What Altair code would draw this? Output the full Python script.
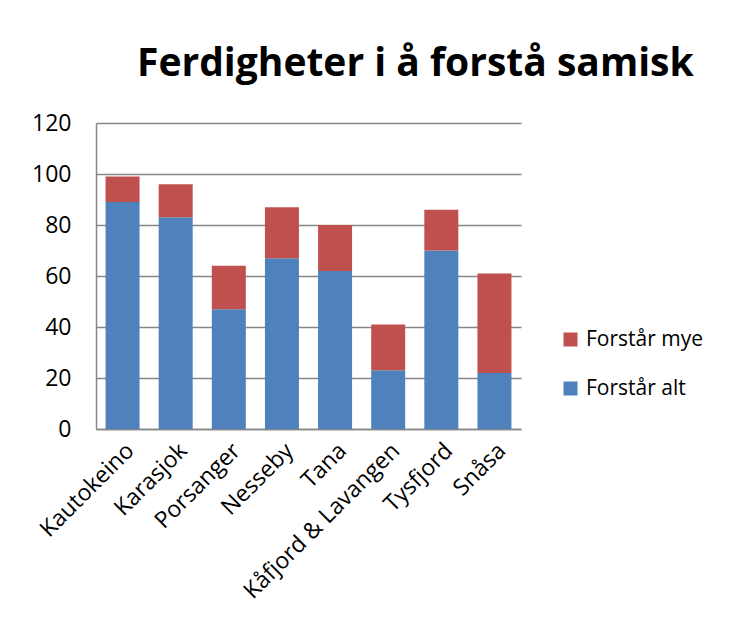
import altair as alt
import pandas as pd

municipalities = ["Kautokeino", "Karasjok", "Porsanger", "Nesseby", "Tana",
                  "Kåfjord & Lavangen", "Tysfjord", "Snåsa"]
forstar_alt = [89, 83, 47, 67, 62, 23, 70, 22]
forstar_mye = [10, 13, 17, 20, 18, 18, 16, 39]
series_names = ["Forstår mye", "Forstår alt"]
series_colors = ["#C0504D", "#4F81BD"]
y_ticks = [0, 20, 40, 60, 80, 100, 120]

rows = []
for m, a, b in zip(municipalities, forstar_alt, forstar_mye):
    rows.append({"kommune": m, "serie": "Forstår alt", "verdi": a, "ord": 0})
    rows.append({"kommune": m, "serie": "Forstår mye", "verdi": b, "ord": 1})
df = pd.DataFrame(rows)

FONT = "Open Sans"

chart = alt.Chart(df).mark_bar().encode(
    x=alt.X("kommune:N", sort=municipalities, title=None,
            scale=alt.Scale(paddingInner=0.36, paddingOuter=0.18),
            axis=alt.Axis(labelAngle=-45, labelAlign="right", labelBaseline="top",
                          labelFont=FONT, labelFontSize=23, labelColor="#000000",
                          ticks=False, domain=True, domainColor="#868686",
                          domainWidth=1.5, labelPadding=10, labelOverlap=False,
                          labelLimit=400)),
    y=alt.Y("verdi:Q", stack="zero", title=None,
            scale=alt.Scale(domain=[0, 120], nice=False),
            axis=alt.Axis(values=y_ticks, labelFont=FONT, labelFontSize=23,
                          labelColor="#000000", ticks=False, domainColor="#868686",
                          domainWidth=1.5, gridColor="#868686", gridWidth=1.5,
                          labelPadding=25)),
    color=alt.Color("serie:N",
                    scale=alt.Scale(domain=series_names, range=series_colors),
                    legend=alt.Legend(title=None, orient="none", legendX=464, legendY=206,
                                      symbolType="square", symbolSize=196,
                                      symbolStrokeWidth=0, labelFont=FONT,
                                      labelFontSize=21, labelColor="#000000",
                                      rowPadding=27, labelOffset=5, labelLimit=300)),
    order=alt.Order("ord:Q", sort="ascending"),
).properties(
    width=425,
    height=306,
    padding={"left": 88, "top": 115, "right": 200, "bottom": 188},
    autosize=alt.AutoSizeParams(type="none"),
    title=alt.TitleParams("Ferdigheter i å forstå samisk", font=FONT, fontSize=39,
                          fontWeight="bold", color="#000000", anchor="start",
                          frame="group", dx=41, offset=28),
).configure_view(stroke=None)

chart.save("out.html", embed_options={"renderer": "svg", "actions": False})
